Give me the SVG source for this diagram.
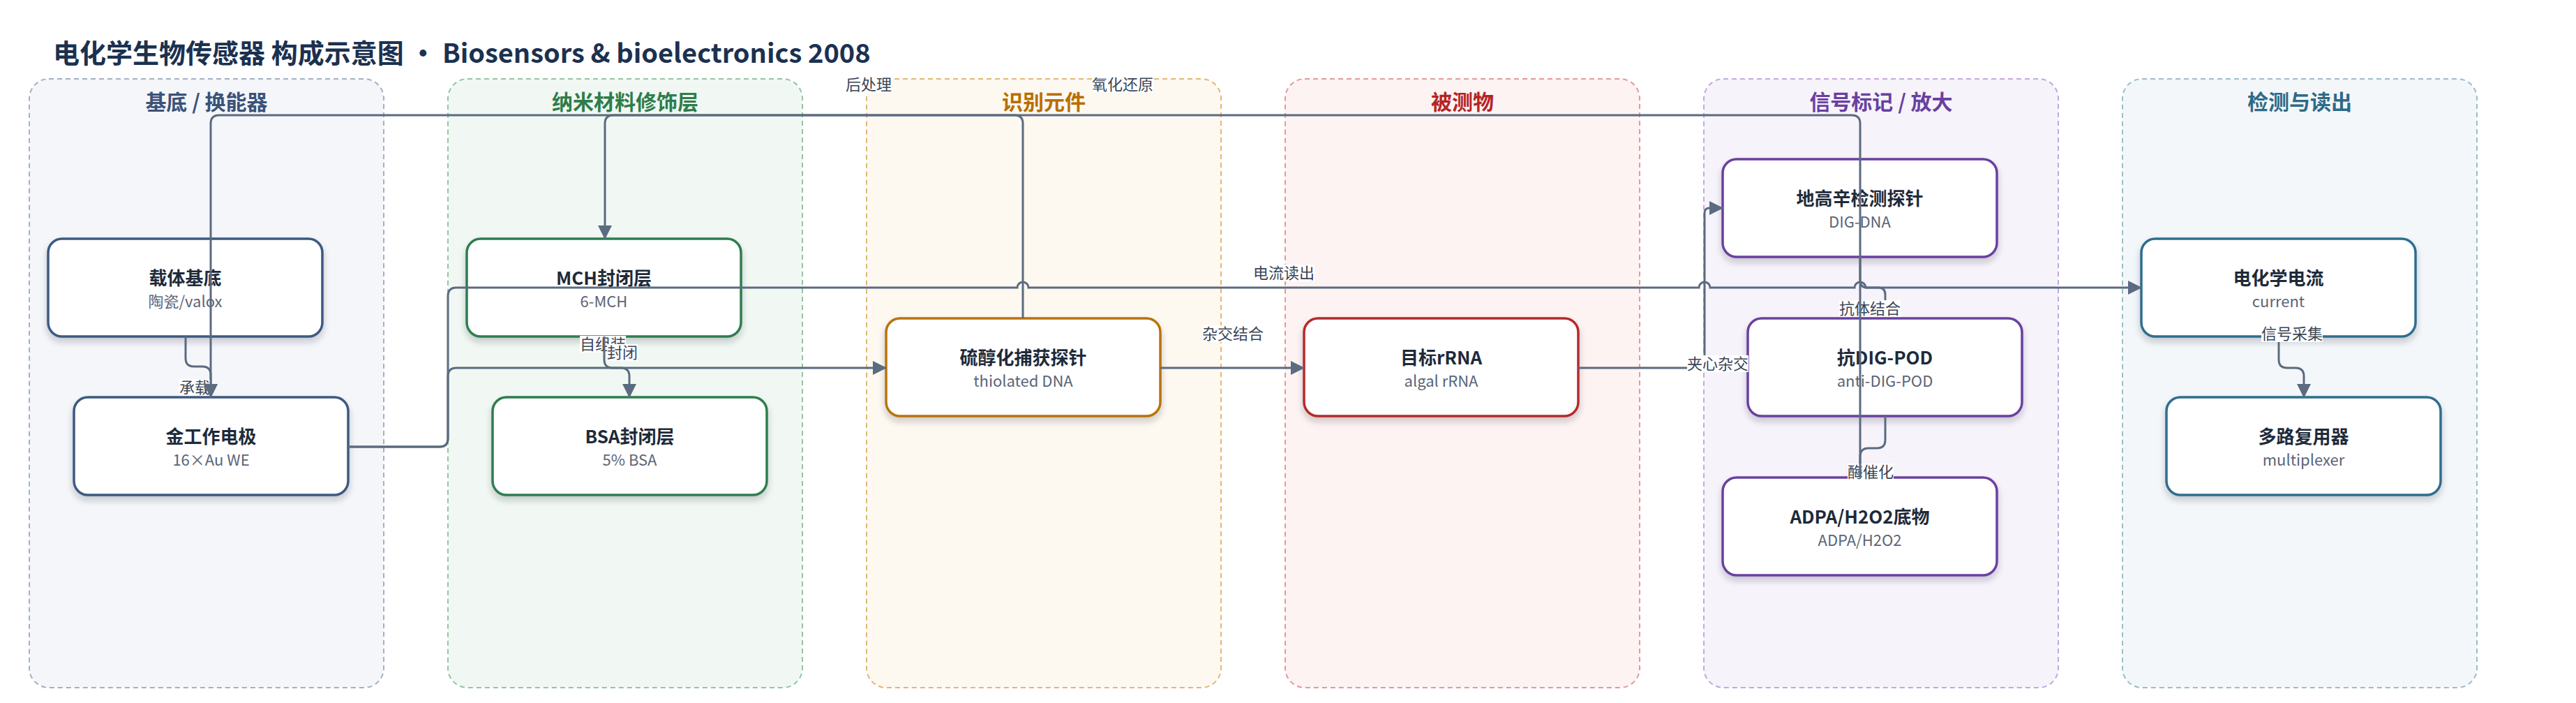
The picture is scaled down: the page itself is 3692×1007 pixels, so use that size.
<svg xmlns="http://www.w3.org/2000/svg" width="3692" height="1007" viewBox="0 0 3692 1007">
<defs>
<style>
text{font-family:"Noto Sans CJK SC","Noto Sans",sans-serif;}
.title{font-size:38px;font-weight:700;fill:#1b3150;}
.gt{font-size:30px;font-weight:700;text-anchor:middle;}
.grp{stroke-width:2;stroke-dasharray:7 5;}
.node rect{fill:#fff;stroke-width:3.5;filter:url(#sh);}
.nt{font-size:26px;font-weight:700;fill:#1e2a3a;text-anchor:middle;}
.ns{font-size:22px;fill:#5b6576;text-anchor:middle;}
.e{fill:none;stroke:#5b6b80;stroke-width:3;}
.ea{marker-end:url(#ah);}
.lb{fill:#fff;}
.lt{font-size:22px;fill:#3a4556;text-anchor:middle;}
</style>
<filter id="sh" x="-10%" y="-10%" width="120%" height="140%">
<feDropShadow dx="0" dy="6" stdDeviation="5" flood-color="#1e2a3a" flood-opacity="0.22"/>
</filter>
<marker id="ah" markerUnits="userSpaceOnUse" markerWidth="20" markerHeight="20" refX="19" refY="10" orient="auto">
<path d="M0,0 L20,10 L0,20 z" fill="#5b6b80"/>
</marker>
</defs>
<rect width="3692" height="1007" fill="#fff"/>
<text class="title" x="76" y="90">电化学生物传感器 构成示意图 · Biosensors &amp; bioelectronics 2008</text>

<g id="groups">
<g id="g-substrate"><rect class="grp" x="42" y="113" width="508" height="872" rx="28" fill="#f4f6fa" stroke="#a3b1c6"/><text class="gt" x="296" y="157" fill="#3b5278">基底 / 换能器</text></g>
<g id="g-nano"><rect class="grp" x="642" y="113" width="508" height="872" rx="28" fill="#f1f8f3" stroke="#94c4a4"/><text class="gt" x="896" y="157" fill="#2e7d4a">纳米材料修饰层</text></g>
<g id="g-recog"><rect class="grp" x="1242" y="113" width="508" height="872" rx="28" fill="#fdf8f0" stroke="#e3b874"/><text class="gt" x="1496" y="157" fill="#b86e00">识别元件</text></g>
<g id="g-analyte"><rect class="grp" x="1842" y="113" width="508" height="872" rx="28" fill="#fdf3f2" stroke="#e39a98"/><text class="gt" x="2096" y="157" fill="#b52424">被测物</text></g>
<g id="g-label"><rect class="grp" x="2442" y="113" width="508" height="872" rx="28" fill="#f6f3fb" stroke="#c2a8e0"/><text class="gt" x="2696" y="157" fill="#6a3fa0">信号标记 / 放大</text></g>
<g id="g-detect"><rect class="grp" x="3042" y="113" width="508" height="872" rx="28" fill="#f3f7f9" stroke="#9dbccb"/><text class="gt" x="3296" y="157" fill="#2e6a88">检测与读出</text></g>
</g>

<g id="nodes">
<g id="n-carrier" class="node"><rect x="69" y="342" width="393" height="140" rx="20" stroke="#3d5a80"/><text class="nt" x="265.5" y="408">载体基底</text><text class="ns" x="265.5" y="440">陶瓷/valox</text></g>
<g id="n-au" class="node"><rect x="106" y="569" width="393" height="140" rx="20" stroke="#3d5a80"/><text class="nt" x="302.5" y="635">金工作电极</text><text class="ns" x="302.5" y="667">16×Au WE</text></g>
<g id="n-mch" class="node"><rect x="669" y="342" width="393" height="140" rx="20" stroke="#2e7d4f"/><text class="nt" x="865.5" y="408">MCH封闭层</text><text class="ns" x="865.5" y="440">6-MCH</text></g>
<g id="n-bsa" class="node"><rect x="706" y="569" width="393" height="140" rx="20" stroke="#2e7d4f"/><text class="nt" x="902.5" y="635">BSA封闭层</text><text class="ns" x="902.5" y="667">5% BSA</text></g>
<g id="n-probe" class="node"><rect x="1270" y="456" width="393" height="140" rx="20" stroke="#b8730a"/><text class="nt" x="1466.5" y="522">硫醇化捕获探针</text><text class="ns" x="1466.5" y="554">thiolated DNA</text></g>
<g id="n-rrna" class="node"><rect x="1869" y="456" width="393" height="140" rx="20" stroke="#b52a2a"/><text class="nt" x="2065.5" y="522">目标rRNA</text><text class="ns" x="2065.5" y="554">algal rRNA</text></g>
<g id="n-dig" class="node"><rect x="2469" y="228" width="393" height="140" rx="20" stroke="#6b40a0"/><text class="nt" x="2665.5" y="294">地高辛检测探针</text><text class="ns" x="2665.5" y="326">DIG-DNA</text></g>
<g id="n-pod" class="node"><rect x="2505" y="456" width="393" height="140" rx="20" stroke="#6b40a0"/><text class="nt" x="2701.5" y="522">抗DIG-POD</text><text class="ns" x="2701.5" y="554">anti-DIG-POD</text></g>
<g id="n-adpa" class="node"><rect x="2469" y="684" width="393" height="140" rx="20" stroke="#6b40a0"/><text class="nt" x="2665.5" y="750">ADPA/H2O2底物</text><text class="ns" x="2665.5" y="782">ADPA/H2O2</text></g>
<g id="n-current" class="node"><rect x="3069" y="342" width="393" height="140" rx="20" stroke="#2f6e8e"/><text class="nt" x="3265.5" y="408">电化学电流</text><text class="ns" x="3265.5" y="440">current</text></g>
<g id="n-mux" class="node"><rect x="3105" y="569" width="393" height="140" rx="20" stroke="#2f6e8e"/><text class="nt" x="3301.5" y="635">多路复用器</text><text class="ns" x="3301.5" y="667">multiplexer</text></g>
</g>

<g id="connectors">
<path class="e ea" d="M266,482 V513 Q266,525 278,525 H290 Q302,525 302,537 V569"/>
<rect class="lb" x="257" y="543" width="44" height="24"/><text class="lt" x="279" y="563">承载</text>

<path class="e ea" d="M499,640 H630 Q642,640 642,628 V539 Q642,527 654,527 H1270"/>
<rect class="lb" x="831" y="481" width="66" height="24"/><text class="lt" x="864" y="501">自组装</text>

<path class="e ea" d="M1466,456 V177 Q1466,165 1454,165 H879 Q867,165 867,177 V342"/>
<rect class="lb" x="1212" y="109" width="66" height="24"/><text class="lt" x="1245" y="129">后处理</text>

<path class="e ea" d="M866,482 V515 Q866,527 878,527 H890 Q902,527 902,539 V569"/>
<rect class="lb" x="870" y="493" width="44" height="24"/><text class="lt" x="892" y="513">封闭</text>

<path class="e ea" d="M1663,527 H1869"/>
<rect class="lb" x="1723" y="466" width="88" height="24"/><text class="lt" x="1767" y="486">杂交结合</text>

<path class="e ea" d="M2262,527 H2431 Q2443,527 2443,515 V305 Q2443,298 2450,298 H2469"/>
<rect class="lb" x="2418" y="509" width="88" height="24"/><text class="lt" x="2462" y="529">夹心杂交</text>

<path class="e ea" d="M2666,368 V402 Q2666,412 2676,412 H2692 Q2702,412 2702,422 V456"/>
<rect class="lb" x="2636" y="430" width="88" height="24"/><text class="lt" x="2680" y="450">抗体结合</text>

<path class="e ea" d="M2702,596 V630 Q2702,642 2690,642 H2678 Q2666,642 2666,654 V684"/>
<rect class="lb" x="2648" y="664" width="66" height="24"/><text class="lt" x="2681" y="684">酶催化</text>

<path class="e ea" d="M2666,684 V177 Q2666,165 2654,165 H314 Q302,165 302,177 V569"/>
<rect class="lb" x="1565" y="109" width="88" height="24"/><text class="lt" x="1609" y="129">氧化还原</text>

<path class="e ea" d="M499,640 H630 Q642,640 642,628 V424 Q642,412 654,412 H1458 A8,8 0 0 1 1474,412 H2435 A8,8 0 0 1 2451,412 H2658 A8,8 0 0 1 2674,412 H3069"/>
<rect class="lb" x="1796" y="379" width="88" height="24"/><text class="lt" x="1840" y="399">电流读出</text>

<path class="e ea" d="M3266,482 V515 Q3266,527 3278,527 H3290 Q3302,527 3302,539 V569"/>
<rect class="lb" x="3241" y="466" width="88" height="24"/><text class="lt" x="3285" y="486">信号采集</text>
</g>
</svg>
